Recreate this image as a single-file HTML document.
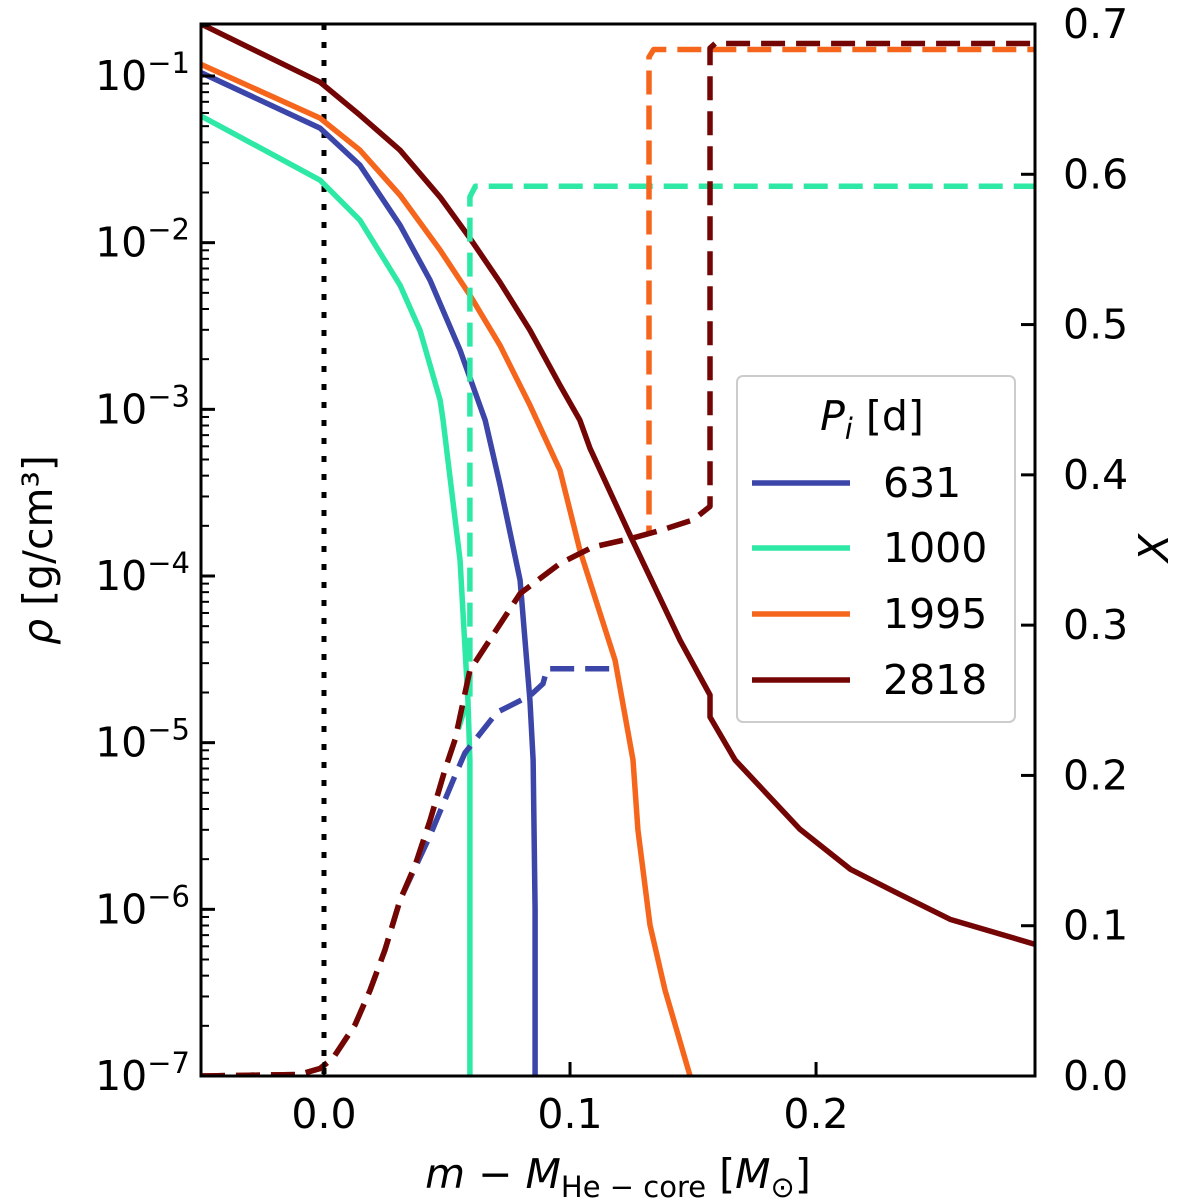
<!DOCTYPE html>
<html><head><meta charset="utf-8"><style>
body{margin:0;background:#fff}
svg{font-family:"DejaVu Sans","Liberation Sans",sans-serif}
</style></head><body>
<svg id="chart" width="1200" height="1203" xmlns="http://www.w3.org/2000/svg" style="position:absolute;left:0;top:0">
<g id="marks"></g>
<g id="axes"></g>
</svg>
<script>
const periods = ["631","1000","1995","2818"];
const colors = ["#3c45a8","#2de9a5","#f5661c","#740505"];
// density curves: [x, log10 rho]
const rho631 = [[-0.05,-0.98],[-0.0016,-1.313],[0.0146,-1.535],[0.0309,-1.895],[0.0431,-2.225],[0.0553,-2.645],[0.0655,-3.065],[0.0715,-3.45],[0.0797,-4.025],[0.0837,-4.745],[0.085,-5.104],[0.0858,-6],[0.0858,-7]];
const rho1000 = [[-0.05,-1.24],[-0.0016,-1.625],[0.0146,-1.865],[0.0309,-2.255],[0.039,-2.525],[0.0472,-2.945],[0.0484,-3.065],[0.0553,-3.905],[0.0585,-4.745],[0.0593,-5.104],[0.0593,-7]];
const rho1995 = [[-0.05,-0.93],[-0.0016,-1.253],[0.0146,-1.445],[0.0309,-1.715],[0.0472,-2.045],[0.0593,-2.315],[0.0715,-2.615],[0.0837,-2.975],[0.0959,-3.365],[0.104,-3.845],[0.1183,-4.505],[0.1256,-5.104],[0.1276,-5.524],[0.1325,-6.094],[0.1386,-6.484],[0.1488,-7]];
const rho2818 = [[-0.05,-0.688],[-0.0016,-1.037],[0.0146,-1.235],[0.0309,-1.445],[0.0472,-1.727],[0.0593,-1.973],[0.0715,-2.237],[0.0837,-2.525],[0.0959,-2.855],[0.104,-3.065],[0.1081,-3.233],[0.1244,-3.755],[0.1447,-4.385],[0.1569,-4.714],[0.1569,-4.846],[0.1671,-5.104],[0.1935,-5.52],[0.214,-5.76],[0.234,-5.91],[0.2545,-6.06],[0.289,-6.21]];
// hydrogen fraction curves: [x, X]
const X631 = [[-0.05,0],[-0.01,0.001],[-0.0016,0.005],[0.0037,0.012],[0.0126,0.034],[0.0187,0.057],[0.0248,0.084],[0.0309,0.117],[0.0431,0.16],[0.0533,0.2],[0.0573,0.215],[0.0703,0.242],[0.0837,0.253],[0.089,0.261],[0.0907,0.271],[0.1203,0.271]];
const X1000 = [[-0.05,0],[-0.01,0.001],[-0.0016,0.005],[0.0037,0.012],[0.0126,0.034],[0.0187,0.057],[0.0248,0.084],[0.0309,0.117],[0.037,0.14],[0.0431,0.17],[0.0492,0.204],[0.0533,0.224],[0.0573,0.245],[0.0593,0.25],[0.0593,0.585],[0.0615,0.592],[0.289,0.592]];
const X1995 = [[-0.05,0],[-0.01,0.001],[-0.0016,0.005],[0.0037,0.012],[0.0126,0.034],[0.0187,0.057],[0.0248,0.084],[0.0309,0.117],[0.037,0.14],[0.0431,0.17],[0.0492,0.204],[0.0533,0.224],[0.0593,0.27],[0.0797,0.321],[0.0959,0.341],[0.1093,0.352],[0.1256,0.358],[0.1321,0.361],[0.1321,0.678],[0.134,0.683],[0.289,0.683]];
const X2818 = [[-0.05,0],[-0.01,0.001],[-0.0016,0.005],[0.0037,0.012],[0.0126,0.034],[0.0187,0.057],[0.0248,0.084],[0.0309,0.117],[0.037,0.14],[0.0431,0.17],[0.0492,0.204],[0.0533,0.224],[0.0593,0.27],[0.0797,0.321],[0.0959,0.341],[0.1093,0.352],[0.1256,0.358],[0.1366,0.363],[0.15,0.37],[0.1569,0.379],[0.1569,0.684],[0.159,0.687],[0.289,0.687]];
const xTicks = [0.0,0.1,0.2];
const xTickLabels = ["0.0","0.1","0.2"];
const yLogTicks = [-7,-6,-5,-4,-3,-2,-1];
const yRightTicks = [0,0.1,0.2,0.3,0.4,0.5,0.6,0.7];
const yRightLabels = ["0.0","0.1","0.2","0.3","0.4","0.5","0.6","0.7"];

const L=201,R=1035,T=24,B=1076;
const xMin=-0.05,xMax=0.289,yLmin=-7,yLmax=-0.688,yRmin=0,yRmax=0.7;
const sx=v=>L+(v-xMin)/(xMax-xMin)*(R-L);
const syL=v=>B-(v-yLmin)/(yLmax-yLmin)*(B-T);
const syR=v=>B-(v-yRmin)/(yRmax-yRmin)*(B-T);
const NS="http://www.w3.org/2000/svg";
const marks=document.getElementById('marks'), axes=document.getElementById('axes');
function mk(tag,attrs,parent){const e=document.createElementNS(NS,tag);for(const k in attrs)e.setAttribute(k,attrs[k]);parent.appendChild(e);return e;}

const defs=mk('defs',{},marks);
const cp=mk('clipPath',{id:'clip'},defs);
mk('rect',{x:L,y:T,width:R-L,height:B-T},cp);
const g=mk('g',{'clip-path':'url(#clip)'},marks);

const zl=mk('line',{x1:sx(0),x2:sx(0),y1:T,y2:B,stroke:'#000','stroke-width':5,'stroke-dasharray':'6 12'},g);



const rhoSets=[rho631,rho1000,rho1995,rho2818];
const XSets=[X631,X1000,X1995,X2818];
rhoSets.forEach((d,i)=>{
  const p=mk('polyline',{points:d.map(q=>sx(q[0])+','+syL(q[1])).join(' '),fill:'none',stroke:colors[i],'stroke-width':5.5,'stroke-linejoin':'round'},g);
  
  
});
XSets.forEach((d,i)=>{
  const p=mk('polyline',{points:d.map(q=>sx(q[0])+','+syR(q[1])).join(' '),fill:'none',stroke:colors[i],'stroke-width':5.5,'stroke-dasharray':'24 11','stroke-linejoin':'round'},g);
  
  
});

mk('rect',{x:L,y:T,width:R-L,height:B-T,fill:'none',stroke:'#000','stroke-width':3},axes);
xTicks.forEach((v,i)=>{
  mk('line',{x1:sx(v),x2:sx(v),y1:B,y2:B-14,stroke:'#000','stroke-width':3},axes);
  const t=mk('text',{x:sx(v),y:B+52,'font-size':41,'text-anchor':'middle'},axes);
  t.textContent=xTickLabels[i];
  
  
});
yLogTicks.forEach(v=>{
  mk('line',{x1:L,x2:L+14,y1:syL(v),y2:syL(v),stroke:'#000','stroke-width':3},axes);
  for(let m=2;m<10;m++){const y=syL(v+Math.log10(m));if(y>=T)mk('line',{x1:L,x2:L+8,y1:y,y2:y,stroke:'#000','stroke-width':2},axes);}
  const t=mk('text',{x:190,y:syL(v)+14,'font-size':41,'text-anchor':'end'},axes);
  
  
  t.innerHTML='10<tspan dy="-17" font-size="29">\u2212'+(-v)+'</tspan>';
});
yRightTicks.forEach((v,i)=>{
  mk('line',{x1:R,x2:R-14,y1:syR(v),y2:syR(v),stroke:'#000','stroke-width':3},axes);
  const t=mk('text',{x:1063,y:syR(v)+14,'font-size':41},axes);
  t.textContent=yRightLabels[i];
  
  
});
</script>
<svg style="position:absolute;left:0;top:0" width="1200" height="1203" xmlns="http://www.w3.org/2000/svg" font-family="DejaVu Sans, Liberation Sans, sans-serif">
<text x="618" y="1188" font-size="41" text-anchor="middle"><tspan font-style="italic">m</tspan> − <tspan font-style="italic">M</tspan><tspan font-size="29" dy="9">He − core</tspan><tspan dy="-9"> [</tspan><tspan font-style="italic">M</tspan><tspan font-size="29" dy="9">⊙</tspan><tspan dy="-9">]</tspan></text>
<text transform="translate(52,550) rotate(-90)" font-size="41" text-anchor="middle"><tspan font-style="italic">ρ</tspan> [g/cm³]</text>
<text transform="translate(1168,548) rotate(-90)" font-size="41" font-style="italic" text-anchor="middle">X</text>
<g>
<rect x="737" y="376" width="278" height="346" rx="6" fill="#fff" fill-opacity="0.85" stroke="#ccc" stroke-width="2"/>
<text x="872" y="430" font-size="41" text-anchor="middle"><tspan font-style="italic">P</tspan><tspan font-style="italic" font-size="29" dy="9">i</tspan><tspan dy="-9"> [d]</tspan></text>
<g><line x1="752" x2="850" y1="483" y2="483" stroke="#3c45a8" stroke-width="5.5"/><text x="883" y="497" font-size="41">631</text></g>
<g><line x1="752" x2="850" y1="548" y2="548" stroke="#2de9a5" stroke-width="5.5"/><text x="883" y="562" font-size="41">1000</text></g>
<g><line x1="752" x2="850" y1="614" y2="614" stroke="#f5661c" stroke-width="5.5"/><text x="883" y="628" font-size="41">1995</text></g>
<g><line x1="752" x2="850" y1="680" y2="680" stroke="#740505" stroke-width="5.5"/><text x="883" y="694" font-size="41">2818</text></g>
</g>
</svg>
</body></html>
